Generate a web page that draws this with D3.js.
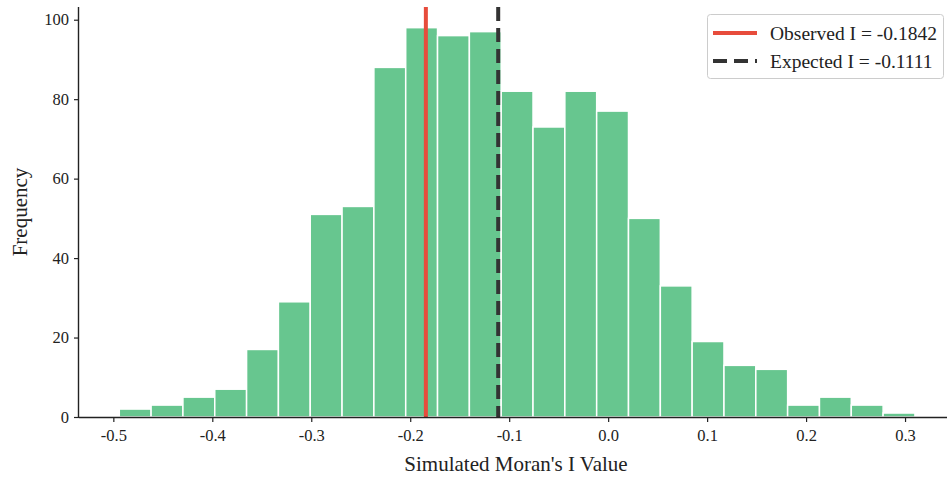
<!DOCTYPE html>
<html>
<head>
<meta charset="utf-8">
<script src="https://cdn.jsdelivr.net/npm/d3@7"></script>
<style>
  html, body { margin: 0; padding: 0; background: #fff; }
  svg { display: block; }
  text { font-family: "Liberation Serif", "Times New Roman", serif; fill: #222; }
</style>
</head>
<body>
<svg id="chart" width="948" height="477"></svg>
<script>
// ---- data ----
const binStart = -0.494;
const binWidth = 0.03216;
const counts = [2, 3, 5, 7, 17, 29, 51, 53, 88, 98, 96, 97, 82, 73, 82, 77, 50, 33, 19, 13, 12, 3, 5, 3, 1];
const xTicks = [-0.5, -0.4, -0.3, -0.2, -0.1, 0.0, 0.1, 0.2, 0.3];
const yTicks = [0, 20, 40, 60, 80, 100];
const observedI = -0.1842;
const expectedI = -0.1111;
const legendLabels = ["Observed I = -0.1842", "Expected I = -0.1111"];
const xLabel = "Simulated Moran's I Value";
const yLabel = "Frequency";

const bins = counts.map((c, i) => ({ x0: binStart + i * binWidth, x1: binStart + (i + 1) * binWidth, count: c }));

// ---- layout ----
const svg = d3.select("#chart");
const margin = { left: 79, right: 1, top: 7, bottom: 60 };
const W = 948, H = 477;
const x = d3.scaleLinear().domain([-0.5347, 0.3424]).range([margin.left, W - margin.right]);
const y = d3.scaleLinear().domain([0, 103.2]).range([H - margin.bottom, margin.top]);

// bars
svg.append("g").selectAll("rect").data(bins).join("rect")
  .attr("x", d => x(d.x0))
  .attr("width", d => x(d.x1) - x(d.x0))
  .attr("y", d => y(d.count))
  .attr("height", d => y(0) - y(d.count))
  .attr("fill", "#27ae60")
  .attr("fill-opacity", 0.7)
  .attr("stroke", "#fff")
  .attr("stroke-width", 1.5);

// vertical lines
svg.append("line")
  .attr("x1", x(observedI)).attr("x2", x(observedI))
  .attr("y1", y.range()[1]).attr("y2", y(0))
  .attr("stroke", "#e74c3c").attr("stroke-width", 4);
svg.append("line")
  .attr("x1", x(expectedI)).attr("x2", x(expectedI))
  .attr("y1", y.range()[1]).attr("y2", y(0))
  .attr("stroke", "#333").attr("stroke-width", 4)
  .attr("stroke-dasharray", "14,7");

// axes
const xAxis = svg.append("g").attr("transform", `translate(0,${y(0)})`)
  .call(d3.axisBottom(x).tickValues(xTicks).tickFormat(d3.format(".1f")).tickSize(5).tickPadding(7));
const yAxis = svg.append("g").attr("transform", `translate(${margin.left},0)`)
  .call(d3.axisLeft(y).tickValues(yTicks).tickFormat(d3.format("d")).tickSize(5).tickPadding(5));
[xAxis, yAxis].forEach(g => {
  g.selectAll("path.domain").attr("stroke", "#222").attr("stroke-width", 1.4);
  g.selectAll(".tick line").attr("stroke", "#222").attr("stroke-width", 1.2);
  g.selectAll(".tick text").style("font-family", "Liberation Serif, serif").style("font-size", "16.5px").attr("fill", "#222");
});
// domain path: remove outer ticks
xAxis.select("path.domain").attr("d", `M${x.range()[0]},0.5H${x.range()[1]}`);
yAxis.select("path.domain").attr("d", `M-0.5,${y.range()[0]}V${y.range()[1]}`);
xAxis.selectAll(".tick text").text(d => d3.format(".1f")(d).replace("−", "-"));

// axis labels
svg.append("text")
  .attr("x", (x.range()[0] + x.range()[1]) / 2 + 3)
  .attr("y", 471)
  .attr("text-anchor", "middle")
  .style("font-size", "21px")
  .text(xLabel);
svg.append("text")
  .attr("transform", `translate(27,${(y.range()[0] + y.range()[1]) / 2}) rotate(-90)`)
  .attr("text-anchor", "middle")
  .style("font-size", "21px")
  .text(yLabel);

// legend
const lg = svg.append("g");
lg.append("rect")
  .attr("x", 707.5).attr("y", 14.5).attr("width", 236).attr("height", 64)
  .attr("rx", 3).attr("fill", "#fff").attr("fill-opacity", 0.8)
  .attr("stroke", "#ccc").attr("stroke-width", 1);
const items = [
  { label: legendLabels[0], color: "#e74c3c", dash: null },
  { label: legendLabels[1], color: "#333", dash: "14,7" }
];
items.forEach((it, i) => {
  const cy = 33 + i * 28;
  lg.append("line")
    .attr("x1", 713).attr("x2", 757).attr("y1", cy).attr("y2", cy)
    .attr("stroke", it.color).attr("stroke-width", 4)
    .attr("stroke-dasharray", it.dash);
  lg.append("text")
    .attr("x", 770).attr("y", cy + 6.5)
    .style("font-size", "19.5px")
    .text(it.label);
});
</script>
</body>
</html>
